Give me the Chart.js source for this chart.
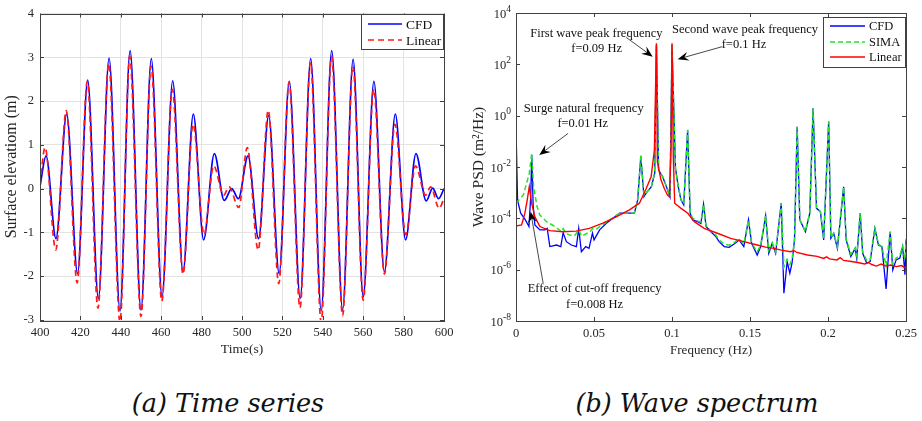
<!DOCTYPE html>
<html lang="en">
<head>
<meta charset="UTF-8">
<title>Surface elevation time series and wave spectrum</title>
<script src="https://cdn.jsdelivr.net/npm/chart.js"></script>
<style>
    * { margin: 0; padding: 0; box-sizing: border-box; }
    body {
        width: 922px;
        height: 421px;
        background: #fff;
        position: relative;
        overflow: hidden;
        font-family: 'Liberation Serif', 'Times New Roman', serif;
    }
    .panel { position: absolute; top: 0; height: 360px; }
    #panelA { left: 0; width: 460px; }
    #panelB { left: 460px; width: 462px; }
    .caption {
        position: absolute;
        top: 387px;
        font-family: 'DejaVu Serif', serif;
        font-style: italic;
        font-weight: normal;
        font-size: 25.5px;
        line-height: 32px;
        text-align: center;
        color: #111;
    }
    #capA { left: 0; width: 456px; }
    #capB { left: 472px; width: 450px; }
</style>
</head>
<body>
<div class="panel" id="panelA"><canvas id="timeChart" width="460" height="360"></canvas></div>
<div class="panel" id="panelB"><canvas id="psdChart" width="462" height="360"></canvas></div>
<div class="caption" id="capA">(a) Time series</div>
<div class="caption" id="capB">(b) Wave spectrum</div>

<script>
// ---- (a) time series: crests and troughs ----
const cfdTime = [400.0, 403.0, 407.9, 413.2, 418.6, 423.6, 428.9, 434.2, 439.6, 444.6, 450.0, 455.1, 460.4, 465.7,
    470.8, 475.9, 481.0, 486.3, 491.2, 494.9, 498.2, 503.0, 508.2, 513.2, 518.4, 523.4, 528.8, 534.0,
    539.2, 544.4, 549.8, 555.0, 560.0, 565.3, 570.5, 575.9, 581.0, 586.1, 591.2, 594.4, 597.3, 600.0];
const cfdElev = [0.05, 0.75, -1.14, 1.70, -1.94, 2.48, -2.51, 2.98, -2.79, 3.15, -2.77, 2.97, -2.47, 2.46,
    -1.90, 1.70, -1.17, 0.80, -0.27, 0.00, -0.23, 0.75, -1.14, 1.67, -1.94, 2.45, -2.51, 2.97,
    -2.79, 3.15, -2.77, 2.95, -2.47, 2.45, -1.90, 1.70, -1.17, 0.80, -0.28, 0.01, -0.23, 0.00];

const linTime = [400.0, 402.5, 407.8, 413.0, 418.4, 423.4, 428.7, 434.0, 439.6, 444.4, 450.0, 455.0, 460.3, 465.5,
    470.8, 475.8, 481.2, 486.0, 490.9, 493.6, 498.4, 502.6, 508.0, 513.0, 518.2, 523.3, 528.7, 533.9,
    539.2, 544.3, 549.8, 554.9, 560.0, 565.2, 570.5, 575.7, 581.1, 585.9, 590.9, 593.4, 597.6, 600.0];
const linElev = [0.10, 0.94, -1.40, 1.78, -2.15, 2.45, -2.73, 2.86, -3.05, 3.02, -2.92, 2.80, -2.57, 2.27,
    -1.95, 1.47, -1.05, 0.52, -0.15, 0.04, -0.43, 0.94, -1.40, 1.79, -2.17, 2.43, -2.72, 2.87,
    -3.05, 3.02, -2.90, 2.80, -2.55, 2.27, -1.95, 1.47, -1.05, 0.52, -0.15, 0.04, -0.45, -0.22];

const timeTicks = [400, 420, 440, 460, 480, 500, 520, 540, 560, 580, 600];
const elevTicks = [-3, -2, -1, 0, 1, 2, 3, 4];

// ---- (b) wave spectrum: PSD read as powers of ten off the log axis ----
const cfdFreq = [0, 0.001, 0.003, 0.006, 0.0083, 0.0094, 0.0101, 0.011, 0.0121, 0.0153, 0.0185, 0.02, 0.0217, 0.026,
    0.0287, 0.0302, 0.0323, 0.0355, 0.0387, 0.0402, 0.0419, 0.0447, 0.0468, 0.049, 0.05, 0.0536, 0.0579, 0.0621,
    0.0664, 0.0706, 0.0759, 0.078, 0.08, 0.082, 0.0836, 0.0868, 0.0889, 0.09, 0.0914, 0.094, 0.0972, 0.0987,
    0.1, 0.1022, 0.104, 0.1057, 0.1075, 0.11, 0.1116, 0.1132, 0.1164, 0.1185, 0.1202, 0.1218, 0.1249, 0.1281,
    0.1302, 0.1334, 0.1366, 0.1398, 0.143, 0.146, 0.149, 0.151, 0.1546, 0.1568, 0.16, 0.162, 0.1642, 0.1664,
    0.17, 0.1717, 0.1738, 0.1755, 0.1769, 0.1785, 0.1802, 0.1819, 0.1855, 0.1883, 0.1904, 0.1926, 0.1951, 0.1972,
    0.2004, 0.2018, 0.2036, 0.206, 0.21, 0.2116, 0.2146, 0.2174, 0.2184, 0.2206, 0.2222, 0.2248, 0.227, 0.23,
    0.2323, 0.2345, 0.2372, 0.2398, 0.2415, 0.2436, 0.246, 0.2478, 0.2493, 0.25];
const cfdPsdExp = [-0.47, -3.30, -3.80, -4.06, -4.32, -3.20, -1.53, -3.50, -4.26, -4.45, -4.45, -4.39, -5.10, -5.04,
    -5.10, -4.56, -4.91, -5.04, -5.10, -4.39, -5.30, -5.10, -5.17, -4.58, -4.84, -4.45, -4.19, -4.00,
    -3.80, -3.80, -3.80, -3.28, -1.58, -3.16, -3.00, -2.77, -2.25, 2.75, -2.12, -2.38, -2.90, -3.16,
    2.75, -2.05, -2.77, -3.28, -3.48, -0.56, -3.80, -4.06, -4.13, -4.20, -3.45, -4.32, -4.52, -4.71,
    -4.91, -5.10, -5.13, -5.00, -4.84, -5.10, -4.06, -4.97, -5.43, -5.10, -3.90, -5.36, -4.97, -5.36,
    -3.41, -6.92, -5.69, -6.14, -5.75, -4.84, -0.43, -4.06, -4.52, -3.80, 0.29, -3.61, -3.74, -4.84,
    -0.23, -4.78, -4.58, -5.17, -2.77, -4.84, -5.49, -5.17, -5.56, -3.80, -5.36, -5.75, -5.68, -4.39,
    -5.04, -5.10, -6.75, -4.52, -6.01, -5.62, -5.55, -5.10, -6.20, -4.84];

const simaFreq = [0, 0.0047, 0.0068, 0.0085, 0.01, 0.0113, 0.0135, 0.0153, 0.0196, 0.025, 0.0292, 0.0302, 0.0323,
    0.0345, 0.0375, 0.0402, 0.042, 0.045, 0.0475, 0.049, 0.051, 0.0536, 0.0579, 0.0621, 0.0664, 0.0706, 0.0759,
    0.078, 0.08, 0.082, 0.0836, 0.0868, 0.0889, 0.09, 0.0914, 0.094, 0.0972, 0.0987, 0.1, 0.1022, 0.104, 0.1057,
    0.1075, 0.11, 0.1116, 0.1132, 0.1164, 0.1185, 0.1202, 0.1218, 0.1249, 0.1281, 0.1302, 0.1334, 0.1366, 0.1398,
    0.143, 0.146, 0.149, 0.151, 0.1546, 0.1568, 0.16, 0.162, 0.1642, 0.1664, 0.17, 0.1717, 0.1738, 0.1755, 0.1769,
    0.1785, 0.1802, 0.1819, 0.1855, 0.1883, 0.1904, 0.1926, 0.1951, 0.1972, 0.2004, 0.2018, 0.2036, 0.206, 0.21,
    0.2116, 0.2146, 0.2174, 0.2184, 0.2206, 0.2222, 0.2248, 0.227, 0.23, 0.2323, 0.2345, 0.2372, 0.2398, 0.2415,
    0.2436, 0.246, 0.2478, 0.2493, 0.25];
const simaPsdExp = [-3.41, -3.09, -2.63, -2.25, -1.50, -2.77, -3.55, -3.87, -4.13, -4.32, -4.52, -4.40, -4.60,
    -4.65, -4.68, -4.45, -4.70, -4.60, -4.52, -4.40, -4.45, -4.32, -4.15, -3.98, -3.80, -3.80, -3.78,
    -3.25, -1.55, -3.10, -3.00, -2.75, -2.20, 2.75, -2.10, -2.38, -2.88, -3.14, 2.75, -2.05, -2.75, -3.26,
    -3.45, -0.55, -3.78, -4.00, -4.10, -4.15, -3.45, -4.28, -4.50, -4.65, -4.85, -5.00, -5.05, -4.95,
    -4.80, -5.00, -4.06, -4.95, -5.30, -5.05, -3.90, -5.25, -4.95, -5.30, -3.41, -5.90, -5.60, -5.80, -5.60,
    -4.84, -0.43, -4.06, -4.50, -3.80, 0.29, -3.61, -3.74, -4.80, -0.23, -4.75, -4.58, -5.10, -2.77,
    -4.80, -5.40, -5.15, -5.45, -3.80, -5.30, -5.65, -5.60, -4.39, -5.00, -5.10, -5.85, -4.52, -5.80,
    -5.55, -5.45, -5.10, -5.60, -4.80];

const linFreq = [0, 0.0036, 0.0057, 0.0072, 0.0085, 0.01, 0.0121, 0.0153, 0.0217, 0.03, 0.0385, 0.047, 0.0557,
    0.0642, 0.0727, 0.0791, 0.0834, 0.0866, 0.0887, 0.09, 0.0906, 0.0929, 0.095, 0.0971, 0.0983, 0.0994, 0.1,
    0.1008, 0.1017, 0.1058, 0.1101, 0.1143, 0.1206, 0.1291, 0.1376, 0.1461, 0.1546, 0.16, 0.1653, 0.17, 0.176,
    0.178, 0.18, 0.1868, 0.193, 0.1972, 0.199, 0.201, 0.2057, 0.2078, 0.21, 0.215, 0.219, 0.2234, 0.226, 0.228,
    0.231, 0.234, 0.2373, 0.24, 0.244, 0.247, 0.25];
const linPsdExp = [-4.30, -4.26, -3.80, -3.28, -2.77, -3.41, -3.94, -4.32, -4.48, -4.52, -4.50, -4.39, -4.19,
    -3.94, -3.67, -3.41, -2.85, -2.38, -1.34, 2.82, -1.80, -2.50, -2.83, -3.09, -3.16, -1.20, 2.82,
    -1.50, -3.41, -3.61, -3.80, -4.13, -4.39, -4.58, -4.78, -4.91, -5.04, -5.12, -5.17, -5.24, -5.30,
    -5.25, -5.33, -5.43, -5.48, -5.56, -5.50, -5.58, -5.62, -5.53, -5.64, -5.68, -5.72, -5.78, -5.72, -5.80,
    -5.86, -5.78, -5.86, -5.82, -5.88, -5.84, -5.95];

const freqTicks = [0, 0.05, 0.1, 0.15, 0.2, 0.25];
const psdTickExps = [-8, -6, -4, -2, 0, 2, 4];

// annotation texts and arrows, positions in data units (frequency, log10 PSD)
const noteTexts = [
    ['First wave peak frequency', 0.0515, 3.21],
    ['f=0.09 Hz', 0.0517, 2.62],
    ['Second wave peak frequency', 0.1468, 3.36],
    ['f=0.1 Hz', 0.1461, 2.78],
    ['Surge natural frequency', 0.0434, 0.29],
    ['f=0.01 Hz', 0.0428, -0.32],
    ['Effect of cut-off frequency', 0.0504, -6.76],
    ['f=0.008 Hz', 0.0504, -7.38]
];
const noteArrows = [
    [0.0706, 3.05, 0.0876, 2.30],
    [0.1323, 2.69, 0.1036, 2.20],
    [0.0334, -0.69, 0.0149, -1.53],
    [0.0174, -6.53, 0.0094, -3.74]
];

const FONT = "'Liberation Serif', 'Times New Roman', serif";
const TEXT = '#262626';
const FRAME = '#404040';

Chart.defaults.font.family = FONT;
Chart.defaults.color = TEXT;

function xy(xs, ys) {
    return xs.map((x, i) => ({ x: x, y: ys[i] }));
}
function xyPow(xs, exps) {
    return xs.map((x, i) => ({ x: x, y: Math.pow(10, exps[i]) }));
}

// box round the axes with MATLAB style inward ticks
function drawFrame(chart, xTicks, yTicks) {
    const { ctx, chartArea: a, scales } = chart;
    ctx.save();
    ctx.strokeStyle = FRAME;
    ctx.lineWidth = 1;
    ctx.beginPath();
    xTicks.forEach(v => {
        const px = Math.round(scales.x.getPixelForValue(v)) + 0.5;
        ctx.moveTo(px, a.bottom); ctx.lineTo(px, a.bottom - 4);
        ctx.moveTo(px, a.top); ctx.lineTo(px, a.top + 4);
    });
    yTicks.forEach(v => {
        const py = Math.round(scales.y.getPixelForValue(v)) + 0.5;
        ctx.moveTo(a.left, py); ctx.lineTo(a.left + 4, py);
        ctx.moveTo(a.right, py); ctx.lineTo(a.right - 4, py);
    });
    ctx.stroke();
    ctx.strokeRect(Math.round(a.left) + 0.5, Math.round(a.top) + 0.5,
        Math.round(a.right - a.left), Math.round(a.bottom - a.top));
    ctx.restore();
}

function drawLegend(ctx, box, rows, fontSize) {
    ctx.save();
    ctx.fillStyle = '#fff';
    ctx.fillRect(box.x, box.y, box.w, box.h);
    ctx.strokeStyle = FRAME;
    ctx.lineWidth = 1;
    ctx.strokeRect(box.x + 0.5, box.y + 0.5, box.w, box.h);
    rows.forEach(r => {
        ctx.strokeStyle = r.color;
        ctx.lineWidth = r.width;
        ctx.setLineDash(r.dash || []);
        ctx.beginPath();
        ctx.moveTo(box.x + box.line0, r.y);
        ctx.lineTo(box.x + box.line1, r.y);
        ctx.stroke();
        ctx.setLineDash([]);
        ctx.fillStyle = '#111';
        ctx.font = fontSize + 'px ' + FONT;
        ctx.textAlign = 'left';
        ctx.textBaseline = 'middle';
        ctx.fillText(r.label, box.x + box.text, r.y + 1);
    });
    ctx.restore();
}

function drawArrow(ctx, x0, y0, x1, y1) {
    const ang = Math.atan2(y1 - y0, x1 - x0);
    const len = 11, half = 4.5, notch = 7;
    const cos = Math.cos(ang), sin = Math.sin(ang);
    ctx.save();
    ctx.strokeStyle = '#333';
    ctx.lineWidth = 0.9;
    ctx.beginPath();
    ctx.moveTo(x0, y0);
    ctx.lineTo(x1 - cos * notch, y1 - sin * notch);
    ctx.stroke();
    ctx.fillStyle = '#000';
    ctx.beginPath();
    ctx.moveTo(x1, y1);
    ctx.lineTo(x1 - cos * len - sin * half, y1 - sin * len + cos * half);
    ctx.lineTo(x1 - cos * notch, y1 - sin * notch);
    ctx.lineTo(x1 - cos * len + sin * half, y1 - sin * len - cos * half);
    ctx.closePath();
    ctx.fill();
    ctx.restore();
}

const tickFont = { family: FONT, size: 12.5 };

// ---------- (a) time series ----------
new Chart(document.getElementById('timeChart'), {
    type: 'line',
    data: {
        datasets: [
            {
                label: 'CFD',
                data: xy(cfdTime, cfdElev),
                borderColor: '#0000ff',
                borderWidth: 1.7,
                pointRadius: 0,
                cubicInterpolationMode: 'monotone',
                order: 2
            },
            {
                label: 'Linear',
                data: xy(linTime, linElev),
                borderColor: '#ff1a1a',
                borderWidth: 1.7,
                borderDash: [6, 4],
                pointRadius: 0,
                cubicInterpolationMode: 'monotone',
                order: 1
            }
        ]
    },
    options: {
        responsive: false,
        animation: false,
        devicePixelRatio: 1,
        layout: { padding: { top: 12, right: 16, left: 0, bottom: 0 } },
        scales: {
            x: {
                type: 'linear',
                min: 400,
                max: 600,
                afterBuildTicks: s => { s.ticks = timeTicks.map(v => ({ value: v })); },
                afterFit: s => { s.height = 40; },
                ticks: { font: tickFont, color: TEXT, padding: 5, maxRotation: 0 },
                grid: { color: '#e3e3e3', drawTicks: false },
                border: { display: false },
                title: { display: true, text: 'Time(s)', font: { family: FONT, size: 13.5 }, color: TEXT, padding: { top: 0, bottom: 2 } }
            },
            y: {
                min: -3,
                max: 4,
                afterBuildTicks: s => { s.ticks = elevTicks.map(v => ({ value: v })); },
                afterFit: s => { s.width = 40; },
                ticks: { font: tickFont, color: TEXT, padding: 6 },
                grid: { color: '#e3e3e3', drawTicks: false },
                border: { display: false },
                title: { display: true, text: 'Surface elevatiom (m)', font: { family: FONT, size: 16 }, color: TEXT, padding: { top: 2, bottom: 0 } }
            }
        },
        plugins: { legend: { display: false }, tooltip: { enabled: false } }
    },
    plugins: [{
        id: 'timeDecor',
        afterDatasetsDraw(chart) {
            drawFrame(chart, timeTicks, elevTicks);
            drawLegend(chart.ctx, { x: 361, y: 14, w: 82, h: 35, line0: 7, line1: 41, text: 45 }, [
                { label: 'CFD', color: '#0000ff', width: 1.7, y: 24 },
                { label: 'Linear', color: '#ff1a1a', width: 1.7, dash: [6, 4], y: 40 }
            ], 13.5);
        }
    }]
});

// ---------- (b) wave spectrum ----------
new Chart(document.getElementById('psdChart'), {
    type: 'line',
    data: {
        datasets: [
            {
                label: 'CFD',
                data: xyPow(cfdFreq, cfdPsdExp),
                borderColor: '#0000ff',
                borderWidth: 1.3,
                pointRadius: 0,
                tension: 0,
                order: 3
            },
            {
                label: 'SIMA',
                data: xyPow(simaFreq, simaPsdExp),
                borderColor: '#22e622',
                borderWidth: 1.5,
                borderDash: [5, 3],
                pointRadius: 0,
                tension: 0,
                order: 2
            },
            {
                label: 'Linear',
                data: xyPow(linFreq, linPsdExp),
                borderColor: '#ff0000',
                borderWidth: 1.4,
                pointRadius: 0,
                tension: 0,
                order: 1
            }
        ]
    },
    options: {
        responsive: false,
        animation: false,
        devicePixelRatio: 1,
        layout: { padding: { top: 13, right: 14, left: 0, bottom: 0 } },
        scales: {
            x: {
                type: 'linear',
                min: 0,
                max: 0.25,
                afterBuildTicks: s => { s.ticks = freqTicks.map(v => ({ value: v })); },
                afterFit: s => { s.height = 39; },
                ticks: { font: tickFont, color: TEXT, padding: 5, maxRotation: 0, callback: v => String(Math.round(v * 100) / 100) },
                grid: { display: false, drawTicks: false },
                border: { display: false },
                title: { display: true, text: 'Frequency (Hz)', font: { family: FONT, size: 13 }, color: TEXT, padding: { top: 0, bottom: 2 } }
            },
            y: {
                type: 'logarithmic',
                min: 1e-8,
                max: 1e4,
                afterBuildTicks: s => { s.ticks = psdTickExps.map(e => ({ value: Math.pow(10, e) })); },
                afterFit: s => { s.width = 56; },
                ticks: { display: false },
                grid: { display: false, drawTicks: false },
                border: { display: false },
                title: { display: true, text: 'Wave PSD (m\u00b2/Hz)', font: { family: FONT, size: 15.5 }, color: TEXT, padding: { top: 10, bottom: 0 } }
            }
        },
        plugins: { legend: { display: false }, tooltip: { enabled: false } }
    },
    plugins: [{
        id: 'psdDecor',
        afterDatasetsDraw(chart) {
            const { ctx, chartArea: a, scales: { x, y } } = chart;
            drawFrame(chart, freqTicks, psdTickExps.map(e => Math.pow(10, e)));

            // decade labels with raised exponents
            ctx.save();
            ctx.fillStyle = TEXT;
            ctx.textAlign = 'left';
            ctx.textBaseline = 'middle';
            psdTickExps.forEach(e => {
                const py = y.getPixelForValue(Math.pow(10, e));
                const exp = String(e);
                ctx.font = '9.5px ' + FONT;
                const ew = ctx.measureText(exp).width;
                ctx.font = '12.5px ' + FONT;
                const bw = ctx.measureText('10').width;
                const right = a.left - 5;
                ctx.fillText('10', right - ew - bw, py + 1.5);
                ctx.font = '9.5px ' + FONT;
                ctx.fillText(exp, right - ew, py - 4);
            });
            ctx.restore();

            noteArrows.forEach(n => {
                drawArrow(ctx, x.getPixelForValue(n[0]), y.getPixelForValue(Math.pow(10, n[1])),
                    x.getPixelForValue(n[2]), y.getPixelForValue(Math.pow(10, n[3])));
            });

            ctx.save();
            ctx.fillStyle = '#111';
            ctx.font = '12.5px ' + FONT;
            ctx.textAlign = 'center';
            ctx.textBaseline = 'middle';
            noteTexts.forEach(t => {
                ctx.fillText(t[0], x.getPixelForValue(t[1]), y.getPixelForValue(Math.pow(10, t[2])));
            });
            ctx.restore();

            drawLegend(ctx, { x: 363, y: 17, w: 82, h: 50, line0: 7, line1: 42, text: 46 }, [
                { label: 'CFD', color: '#0000ff', width: 1.3, y: 26 },
                { label: 'SIMA', color: '#22e622', width: 1.5, dash: [5, 3], y: 42 },
                { label: 'Linear', color: '#ff0000', width: 1.4, y: 57 }
            ], 12.5);
        }
    }]
});
</script>
</body>
</html>
